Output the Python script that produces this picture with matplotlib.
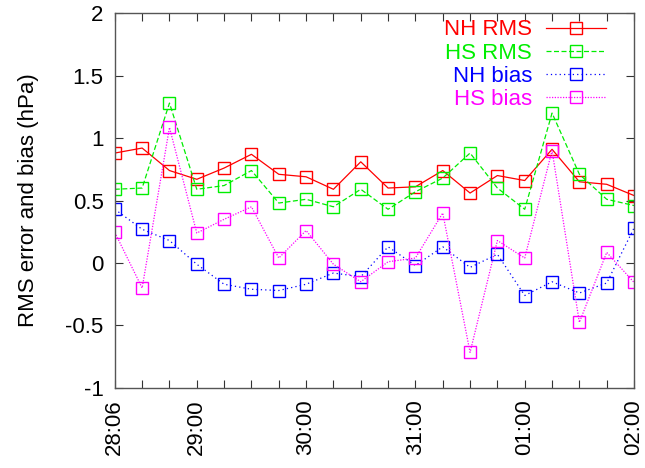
import matplotlib
matplotlib.use("Agg")
import matplotlib.pyplot as plt

plt.rcParams['font.family'] = ['Liberation Sans', 'DejaVu Sans']
plt.rcParams['axes.unicode_minus'] = False

times = ["28:06", "28:12", "28:18", "29:00", "29:06", "29:12", "29:18",
         "30:00", "30:06", "30:12", "30:18", "31:00", "31:06", "31:12",
         "31:18", "01:00", "01:06", "01:12", "01:18", "02:00"]
shown_labels = ["28:06", "29:00", "30:00", "31:00", "01:00", "02:00"]

nh_rms = [0.88, 0.92, 0.74, 0.67, 0.76, 0.87, 0.71, 0.69, 0.59, 0.81,
          0.60, 0.61, 0.74, 0.56, 0.70, 0.66, 0.91, 0.65, 0.63, 0.54]
hs_rms = [0.59, 0.60, 1.28, 0.59, 0.62, 0.74, 0.48, 0.51, 0.45, 0.59,
          0.43, 0.57, 0.68, 0.88, 0.60, 0.43, 1.20, 0.71, 0.51, 0.46]
nh_bias = [0.43, 0.27, 0.18, -0.01, -0.17, -0.21, -0.22, -0.17, -0.08, -0.11,
           0.13, -0.02, 0.13, -0.035, 0.07, -0.26, -0.15, -0.24, -0.16, 0.28]
hs_bias = [0.245, -0.20, 1.085, 0.24, 0.35, 0.45, 0.04, 0.26, -0.01, -0.15,
           0.01, 0.04, 0.40, -0.715, 0.18, 0.04, 0.90, -0.475, 0.085, -0.155]

series = [
    ("NH RMS", nh_rms, "#ff0000", "-"),
    ("HS RMS", hs_rms, "#00ee00", (0, (4, 2))),
    ("NH bias", nh_bias, "#0000ff", (0, (1, 2.5))),
    ("HS bias", hs_bias, "#ff00ff", (0, (1, 1.2))),
]

FS = 16

fig = plt.figure(figsize=(6.45, 4.68), dpi=100)
ax = fig.add_axes([0.178, 0.171, 0.805, 0.801])

x = list(range(len(times)))
for name, vals, col, ls in series:
    ax.plot(x, vals, color=col, linestyle=ls, linewidth=0.9,
            marker='s', markersize=9, markerfacecolor='none',
            markeredgecolor=col, markeredgewidth=1.0, label=name)

ax.set_xlim(0, len(times) - 1)
ax.set_ylim(-1, 2)
ax.set_xticks(x)
ax.set_xticklabels([t if t in shown_labels else "" for t in times],
                   rotation=90, fontsize=FS)
ax.set_yticks([-1, -0.5, 0, 0.5, 1, 1.5, 2])
ax.set_yticklabels(["-1", "-0.5", "0", "0.5", "1", "1.5", "2"], fontsize=FS)
ax.tick_params(direction='in', top=True, right=True, length=6, width=0.8,
               color='#333333', pad=8)
for sp in ax.spines.values():
    sp.set_color('#555555')
    sp.set_linewidth(1.0)
ax.set_ylabel("RMS error and bias (hPa)", fontsize=FS, labelpad=19)

leg = ax.legend(loc='upper right', bbox_to_anchor=(0.973, 1.022), frameon=False,
                markerfirst=False, fontsize=FS, handlelength=2.7,
                handletextpad=0.6, labelspacing=0.1, labelcolor='linecolor',
                borderpad=0.15)

fig.savefig("out.png", dpi=100)
